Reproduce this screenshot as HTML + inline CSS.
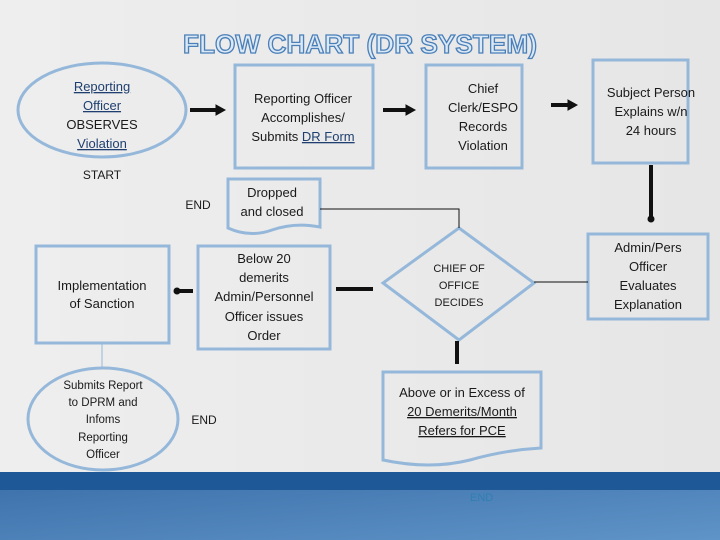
<!DOCTYPE html>
<html><head><meta charset="utf-8"><style>
html,body{margin:0;padding:0;background:#ebebeb;}
svg{display:block;}
text{font-family:"Liberation Sans Narrow","Liberation Sans",sans-serif;fill:#1a1a1a;}
</style></head><body>
<svg width="720" height="540" viewBox="0 0 720 540" xmlns="http://www.w3.org/2000/svg">
<defs>
<linearGradient id="bg" x1="0" y1="0" x2="1" y2="0"><stop offset="0" stop-color="#eeeeee"/><stop offset="1" stop-color="#e6e6e6"/></linearGradient>
<linearGradient id="band" x1="0" y1="0" x2="1" y2="1"><stop offset="0" stop-color="#3a6ea8"/><stop offset="1" stop-color="#5f94c8"/></linearGradient>
</defs>
<rect width="720" height="472" fill="url(#bg)"/>
<rect y="472" width="720" height="68" fill="url(#band)"/>
<rect y="472" width="720" height="18" fill="#1f5896"/>
<text x="470" y="501" font-size="11" style="fill:#2f7fb0">END</text>

<text x="360" y="53" text-anchor="middle" font-size="26" font-weight="bold" textLength="354" lengthAdjust="spacingAndGlyphs" style="fill:#dbe8f5;stroke:#4a7fb8;stroke-width:1.3">FLOW CHART (DR SYSTEM)</text>

<g fill="none" stroke="#95b8da" stroke-width="3">
<ellipse cx="102" cy="110" rx="84" ry="47"/>
<rect x="235" y="65" width="138" height="103"/>
<rect x="426" y="65" width="96" height="103"/>
<rect x="593" y="60" width="95" height="103"/>
<path d="M228 179 H320 V227 Q295 222 272 230 Q250 238 228 228 Z"/>
<rect x="588" y="234" width="120" height="85"/>
<polygon points="459,228 534,283 459,340 383,283"/>
<rect x="198" y="246" width="132" height="103"/>
<rect x="36" y="246" width="133" height="97"/>
<ellipse cx="103" cy="419" rx="75" ry="51"/>
<path d="M383 372 H541 V448 Q505 450 470 460 Q430 470 383 460 Z"/>
</g>

<g stroke="#111" fill="#111">
<line x1="190" y1="110" x2="218" y2="110" stroke-width="4"/><polygon points="216,105 225,110 216,115"/>
<line x1="383" y1="110" x2="408" y2="110" stroke-width="4"/><polygon points="406,105 415,110 406,115"/>
<line x1="551" y1="105" x2="570" y2="105" stroke-width="4"/><polygon points="568,100 577,105 568,110"/>
<line x1="651" y1="165" x2="651" y2="218" stroke-width="4"/><circle cx="651" cy="219" r="3"/>
<line x1="336" y1="289" x2="373" y2="289" stroke-width="4"/>
<line x1="176" y1="291" x2="193" y2="291" stroke-width="4"/><circle cx="177" cy="291" r="3"/>
<line x1="457" y1="341" x2="457" y2="364" stroke-width="4"/>
<polyline points="320,209 459,209 459,228" fill="none" stroke-width="1"/>
<line x1="534" y1="282" x2="588" y2="282" stroke-width="1"/>
</g>
<line x1="102" y1="343" x2="102" y2="368" stroke="#95b8da" stroke-width="1"/>

<g font-size="13" text-anchor="middle">
<text x="102" y="91" style="fill:#1f3f70" text-decoration="underline">Reporting</text>
<text x="102" y="110" style="fill:#1f3f70" text-decoration="underline">Officer</text>
<text x="102" y="129">OBSERVES</text>
<text x="102" y="148" style="fill:#1f3f70" text-decoration="underline">Violation</text>
<text x="102" y="179" font-size="12">START</text>
<text x="303" y="103">Reporting Officer</text>
<text x="303" y="122">Accomplishes/</text>
<text x="303" y="141">Submits <tspan text-decoration="underline" style="fill:#1f3f70">DR Form</tspan></text>
<text x="483" y="93">Chief</text>
<text x="483" y="112">Clerk/ESPO</text>
<text x="483" y="131">Records</text>
<text x="483" y="150">Violation</text>
<text x="651" y="97">Subject Person</text>
<text x="651" y="116">Explains w/n</text>
<text x="651" y="135">24 hours</text>
<text x="198" y="209" font-size="12">END</text>
<text x="272" y="197">Dropped</text>
<text x="272" y="216">and closed</text>
<text x="648" y="252">Admin/Pers</text>
<text x="648" y="271">Officer</text>
<text x="648" y="290">Evaluates</text>
<text x="648" y="309">Explanation</text>
<text x="459" y="272" font-size="11">CHIEF OF</text>
<text x="459" y="289" font-size="11">OFFICE</text>
<text x="459" y="306" font-size="11">DECIDES</text>
<text x="264" y="263">Below 20</text>
<text x="264" y="282">demerits</text>
<text x="264" y="301">Admin/Personnel</text>
<text x="264" y="321">Officer issues</text>
<text x="264" y="340">Order</text>
<text x="102" y="290">Implementation</text>
<text x="102" y="308">of Sanction</text>
<text x="103" y="389" font-size="11.5">Submits Report</text>
<text x="103" y="406" font-size="11.5">to DPRM and</text>
<text x="103" y="423" font-size="11.5">Infoms</text>
<text x="103" y="441" font-size="11.5">Reporting</text>
<text x="103" y="458" font-size="11.5">Officer</text>
<text x="204" y="424" font-size="12">END</text>
<text x="462" y="397">Above or in Excess of</text>
<text x="462" y="416" text-decoration="underline">20 Demerits/Month</text>
<text x="462" y="435" text-decoration="underline">Refers for PCE</text>
</g>
</svg>
</body></html>
